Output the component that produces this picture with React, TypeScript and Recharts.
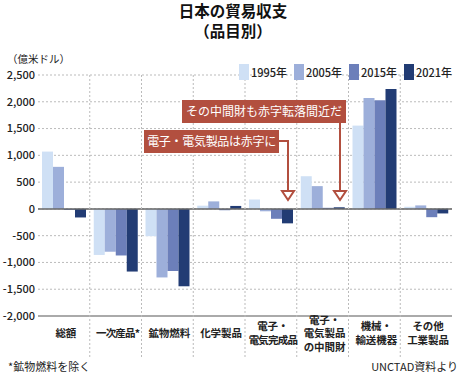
import { BarChart, Bar, XAxis, YAxis, CartesianGrid, ReferenceLine } from 'recharts';

const categories = [
  '総額',
  '一次産品*',
  '鉱物燃料',
  '化学製品',
  '電子・\n電気完成品',
  '電子・\n電気製品\nの中間財',
  '機械・\n輸送機器',
  'その他\n工業製品',
];

const years = ['1995年', '2005年', '2015年', '2021年'];
const colors = ['#cfe0f5', '#9dafda', '#6c7fba', '#223c74'];

const v1995 = [1070, -860, -510, 60, 175, 610, 1555, 40];
const v2005 = [785, -800, -1280, 140, -45, 425, 2070, 65];
const v2015 = [-20, -870, -1160, -25, -185, 20, 2030, -155];
const v2021 = [-160, -1170, -1445, 55, -270, 30, 2240, -85];

const yTicks = [-2000, -1500, -1000, -500, 0, 500, 1000, 1500, 2000, 2500];

const data = categories.map((name, i) => ({
  name,
  y1995: v1995[i],
  y2005: v2005[i],
  y2015: v2015[i],
  y2021: v2021[i],
}));
const keys = ['y1995', 'y2005', 'y2015', 'y2021'];

const FONT = '"Noto Sans CJK JP", "Noto Sans", sans-serif';
const W = 465;
const H = 377;
const PLOT_LEFT = 38;
const PLOT_RIGHT = 452;
const PLOT_TOP = 75;
const BAND = (PLOT_RIGHT - PLOT_LEFT) / categories.length;
const RED = '#b24f3f';

const CategoryTick = (props: any) => {
  const { x, payload } = props;
  const idx = categories.indexOf(payload.value);
  const lines = String(payload.value).split('\n');
  const lh = 13.5;
  const first = 337 - ((lines.length - 1) * lh) / 2;
  return (
    <g>
      {idx < categories.length - 1 && (
        <line
          x1={x + BAND / 2}
          x2={x + BAND / 2}
          y1={PLOT_TOP}
          y2={357}
          stroke="#bbb"
          strokeDasharray="2 2"
        />
      )}
      <text textAnchor="middle" fontFamily={FONT} fontSize={10.5} fontWeight={700} fill="#222">
        {lines.map((l, i) => (
          <tspan key={i} x={x + 2} y={first + i * lh} letterSpacing={l.length >= 5 ? -0.8 : 0}>
            {l}
          </tspan>
        ))}
      </text>
    </g>
  );
};

const App = () => {
  return (
    <div style={{ position: 'absolute', left: 0, top: 0, width: W, height: H, background: '#fff' }}>
      <BarChart
        width={W}
        height={H}
        data={data}
        margin={{ top: PLOT_TOP, right: W - PLOT_RIGHT, left: 0, bottom: 15 }}
        barCategoryGap={4}
        barGap={0}
      >
        <CartesianGrid vertical={false} stroke="#bbb" strokeDasharray="2 2" />
        <XAxis
          dataKey="name"
          interval={0}
          height={46}
          tickLine={false}
          axisLine={{ stroke: '#aaa', strokeWidth: 2 }}
          tick={<CategoryTick />}
        />
        <YAxis
          width={PLOT_LEFT}
          domain={[-2000, 2500]}
          ticks={yTicks}
          axisLine={false}
          tickLine={false}
          tickSize={0}
          tickMargin={3}
          tickFormatter={(v: number) => v.toLocaleString('en-US')}
          tick={{ fill: '#222', fontSize: 11, fontFamily: FONT, fontWeight: 500 }}
        />
        {keys.map((k, i) => (
          <Bar key={k} dataKey={k} fill={colors[i]} isAnimationActive={false} />
        ))}
        <ReferenceLine y={0} stroke="#666" strokeWidth={1.5} />
      </BarChart>

      <svg
        width={W}
        height={H}
        style={{ position: 'absolute', left: 0, top: 0, pointerEvents: 'none' }}
        fontFamily={FONT}
      >
        <text x={233} y={17} textAnchor="middle" fontSize={15.5} fontWeight={700} fill="#111">
          日本の貿易収支
        </text>
        <text x={233} y={37} textAnchor="middle" fontSize={15.5} fontWeight={700} fill="#111">
          （品目別）
        </text>
        <text x={7} y={63} fontSize={10.5} fill="#222">
          （億米ドル）
        </text>

        {years.map((y, i) => (
          <g key={y}>
            <rect x={239 + i * 55} y={64} width={10} height={16} fill={colors[i]} />
            <text x={251 + i * 55} y={77} fontSize={11} fontWeight={500} fill="#222">
              {y}
            </text>
          </g>
        ))}

        {/* annotation: 中間財 */}
        <line x1={340} x2={340} y1={123} y2={191} stroke={RED} strokeWidth={2} />
        <polygon points="334,191 346,191 340,200" fill="#fff" stroke={RED} strokeWidth={2} />
        <rect x={182} y={100} width={164} height={23} fill={RED} />
        <text x={264} y={116} textAnchor="middle" fontSize={12} fill="#fff">
          その中間財も赤字転落間近だ
        </text>

        {/* annotation: 電子・電気製品 */}
        <polyline points="279,141 288,141 288,191" fill="none" stroke={RED} strokeWidth={2} />
        <polygon points="282,191 294,191 288,200" fill="#fff" stroke={RED} strokeWidth={2} />
        <rect x={144} y={130} width={135} height={23} fill={RED} />
        <text x={211.5} y={146} textAnchor="middle" fontSize={12} fill="#fff" letterSpacing={-0.3}>
          電子・電気製品は赤字に
        </text>

        <text x={8} y={371} fontSize={11} fill="#222">
          *鉱物燃料を除く
        </text>
        <text x={458} y={371} textAnchor="end" fontSize={11} fill="#222">
          UNCTAD資料より
        </text>
      </svg>
    </div>
  );
};

export default App;
